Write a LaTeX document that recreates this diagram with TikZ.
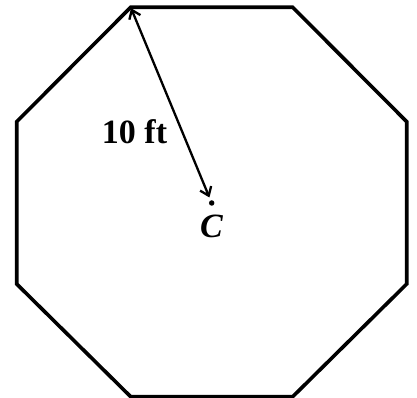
\documentclass[tikz,border=0pt]{standalone}
\usepackage{fontspec}
\setmainfont{Liberation Serif}
\usetikzlibrary{arrows.meta}
\begin{document}
\begin{tikzpicture}[x=1pt,y=1pt,
  octa/.style={line width=3.6pt, line join=miter},
  dim/.style={line width=2.3pt, {Straight Barb[length=8pt,width=12pt,line width=2.3pt]}-{Straight Barb[length=8pt,width=12pt,line width=2.3pt]}},
  lbl/.style={font=\fontsize{34}{40}\selectfont\bfseries, inner sep=0pt, anchor=base}]
\useasboundingbox (0,0) rectangle (417,398);
\coordinate (v1) at (130.7,390.7);
\coordinate (v2) at (292.7,390.7);
\coordinate (v3) at (406.7,276.3);
\coordinate (v4) at (406.7,114);
\coordinate (v5) at (292.7,1.3);
\coordinate (v6) at (130.7,1.3);
\coordinate (v7) at (16.7,114);
\coordinate (v8) at (16.7,276.3);
\draw[octa] (v1) -- (v2) -- (v3) -- (v4) -- (v5) -- (v6) -- (v7) -- (v8) -- cycle;
\node[circle, fill=black, inner sep=0pt, minimum size=5.5pt] (c) at (211.7,195) {};
\draw[dim, shorten <=1pt, shorten >=3pt] (v1) -- (c);
\node[lbl] (ft) at (134.5,254.7) {10 ft};
\node[lbl, font=\fontsize{34}{40}\selectfont\bfseries\itshape] (cl) at (211.5,160) {C};
\end{tikzpicture}
\end{document}
